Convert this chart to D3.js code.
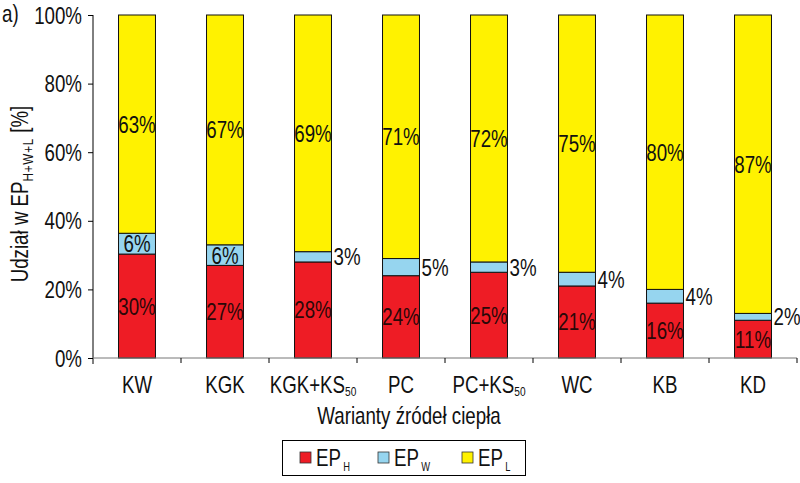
<!DOCTYPE html>
<html><head><meta charset="utf-8">
<script src="https://cdn.jsdelivr.net/npm/d3@7"></script>
<style>
body{margin:0;background:#fff;}
svg text{font-family:"Liberation Sans",Arial,sans-serif;}
</style></head>
<body>
<svg id="c" width="800" height="483"></svg>
<script>
const categories = ["KW","KGK","KGK+KS50","PC","PC+KS50","WC","KB","KD"];
const epH = [30,27,28,24,25,21,16,11];
const epW = [6,6,3,5,3,4,4,2];
const epL = [63,67,69,71,72,75,80,87];
const yTicks = [0,0.2,0.4,0.6,0.8,1.0];
const seriesKeys = ["H","W","L"];
const colors = {H:"#ee1c25", W:"#96d5ef", L:"#fff200"};

const svg = d3.select("#c");
const FS = 24, SX = 0.78;
const x = d3.scaleBand().domain(categories).range([93,797]).paddingInner(0.58).paddingOuter(0.29);
const y = d3.scaleLinear().domain([0,1]).range([358,15]);

function addText(parent, px, py, anchor, extra){
  const gg = parent.append("g").attr("transform",`translate(${px},${py}) ${extra||""} scale(${SX},1)`);
  return gg.append("text").attr("x",0).attr("y",0).attr("text-anchor",anchor).attr("font-size",FS).attr("fill","#111");
}

const rows = categories.map((c,i)=>({cat:c,H:epH[i],W:epW[i],L:epL[i]}));
const stack = d3.stack().keys(seriesKeys).offset(d3.stackOffsetExpand);
const series = stack(rows);

// bars
const g = svg.append("g");
series.forEach(s=>{
  g.selectAll(null).data(s).enter().append("rect")
    .attr("x",d=>x(d.data.cat))
    .attr("width",x.bandwidth())
    .attr("y",d=>y(d[1]))
    .attr("height",d=>y(d[0])-y(d[1]))
    .attr("fill",colors[s.key])
    .attr("stroke","#111").attr("stroke-width",1);
});

// labels
series.forEach(s=>{
  s.forEach(d=>{
    const v = d.data[s.key];
    const top = y(d[1]), bot = y(d[0]);
    const h = bot-top;
    const cx = x(d.data.cat)+x.bandwidth()/2;
    const inside = h >= 20;
    const cy = (top+bot)/2 + 8.5;
    let t;
    if(inside) t = addText(svg, cx, cy, "middle");
    else t = addText(svg, x(d.data.cat)+x.bandwidth()+2, cy, "start");
    t.attr("fill", s.key==="H" ? "#2a0808" : "#111").text(v+"%");
  });
});

// y axis
const yAxis = d3.axisLeft(y).tickValues(yTicks).tickSize(5).tickFormat("");
const ya = svg.append("g").attr("transform","translate(93,0)").call(yAxis);
ya.select(".domain").attr("stroke","#000").attr("d","M0,15V364");
ya.selectAll(".tick line").attr("stroke","#000");
yTicks.forEach(v=>{
  addText(svg, 82, y(v)+8.5, "end").text(d3.format(".0%")(v));
});

// x axis
const xa = svg.append("g").attr("transform","translate(0,358)");
xa.append("line").attr("x1",93).attr("x2",797).attr("y1",0).attr("y2",0).attr("stroke","#777").attr("stroke-width",1);
const bounds = categories.map((c)=>x(c)-x.step()*x.paddingInner()/2);
bounds.slice(1).concat([797]).forEach(bx=>{
  xa.append("line").attr("x1",bx).attr("x2",bx).attr("y1",0).attr("y2",5).attr("stroke","#000");
});
categories.forEach(c=>{
  const t = addText(svg, x(c)+x.bandwidth()/2, 393, "middle");
  const m = c.match(/^(.*KS)(50)$/);
  if(m){
    t.append("tspan").text(m[1]);
    t.append("tspan").attr("font-size",13).attr("dy",3).text(m[2]);
  } else t.text(c);
});

// x title
addText(svg, 409, 424, "middle").text("Warianty źródeł ciepła");

// y title
const yt = addText(svg, 28, 194, "middle", "rotate(-90)");
yt.append("tspan").text("Udział w EP");
yt.append("tspan").attr("font-size",15).attr("dy",5).attr("letter-spacing",1).text("H+W+L");
yt.append("tspan").attr("dy",-5).text("  [%]");

// a)
addText(svg, 2, 22, "start").text("a)");

// legend
const lg = svg.append("g");
lg.append("rect").attr("x",282.5).attr("y",440.5).attr("width",243).attr("height",35).attr("fill","#fff").attr("stroke","#000");
const lx = [300,378,462];
seriesKeys.forEach((k,i)=>{
  lg.append("rect").attr("x",lx[i]).attr("y",452).attr("width",11).attr("height",11).attr("fill",colors[k]).attr("stroke","#333").attr("stroke-width",0.8);
  const t = addText(lg, lx[i]+16, 466, "start");
  t.append("tspan").text("EP");
  t.append("tspan").attr("font-size",12).attr("dy",5).attr("dx",3).text(k);
});
</script>
</body></html>
